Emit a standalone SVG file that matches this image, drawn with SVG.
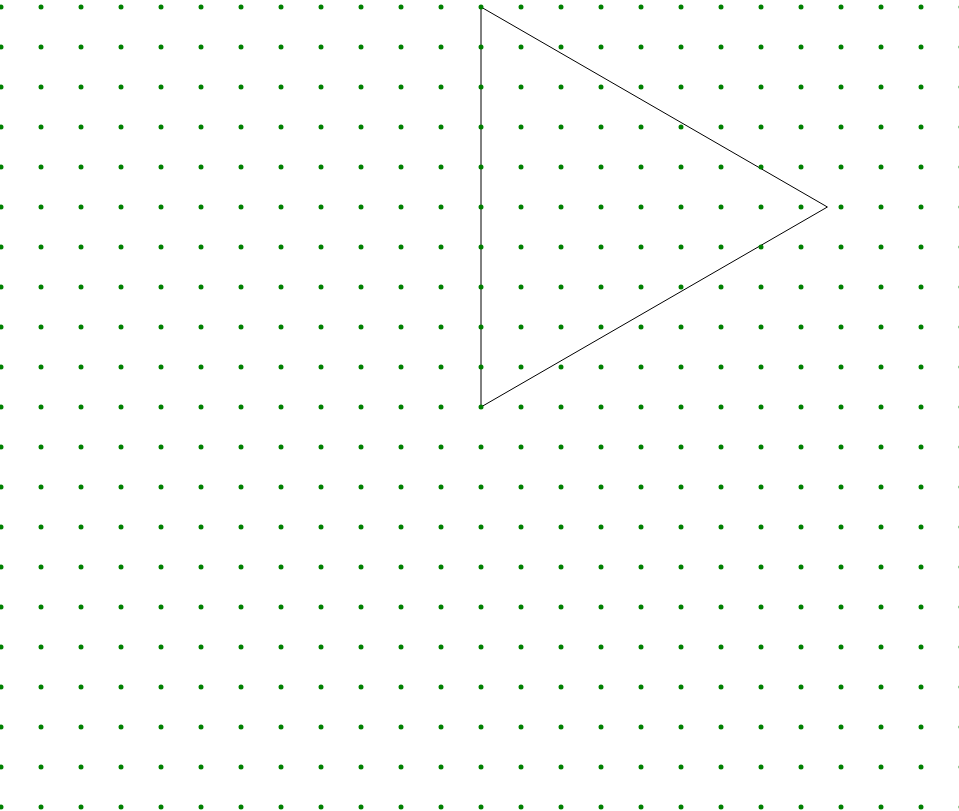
<svg xmlns="http://www.w3.org/2000/svg" width="959" height="811" viewBox="0 0 959 811">
  <defs>
    <pattern id="dots" x="-19" y="-13" width="40" height="40" patternUnits="userSpaceOnUse">
      <circle cx="20" cy="20" r="2.5" fill="#008000"/>
    </pattern>
  </defs>
  <rect width="959" height="811" fill="#ffffff"/>
  <g id="triangle">
    <polygon points="481,7 827.4,207 481,407" fill="none" stroke="#000000" stroke-width="1"/>
  </g>
  <g id="grid">
    <rect x="0" y="0" width="959" height="811" fill="url(#dots)"/>
  </g>
</svg>
